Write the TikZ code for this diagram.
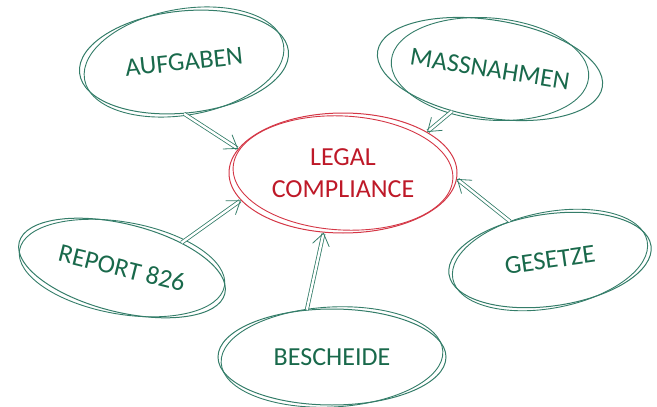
\documentclass[tikz,border=0pt]{standalone}
\usepackage{fontspec}
\setmainfont{Carlito}
\usetikzlibrary{shapes.geometric,arrows.meta}
\definecolor{linegreen}{RGB}{52,125,105}
\definecolor{textgreen}{RGB}{25,105,75}
\definecolor{linered}{RGB}{212,55,70}
\definecolor{textred}{RGB}{190,25,40}
\tikzstyle{thema} = [ellipse, draw=linegreen, line width=1pt, inner sep=0pt,
    text=textgreen, font=\fontsize{26}{28}\selectfont]
\tikzstyle{kern} = [ellipse, draw=linered, line width=1pt, inner sep=0pt,
    text=textred, align=center, font=\fontsize{26}{32}\selectfont]
\tikzstyle{feed} = [draw=linegreen, line width=0.8pt, double=white,
    double distance=2.4pt, -{Straight Barb[length=12pt,width=17pt]}]

\begin{document}
\begin{tikzpicture}[x=1pt,y=-1pt]
  \useasboundingbox (0,0) rectangle (657,407);
  \node [kern, minimum width=228, minimum height=120] (legal) at (343,173)
    {LEGAL\\COMPLIANCE};
  \node [thema, minimum width=210, minimum height=102, rotate=6] (aufg) at (184,62) {AUFGABEN};
  \node [thema, minimum width=204, minimum height=98, rotate=-9] (mass) at (490,69) {MASSNAHMEN};
  \node [thema, minimum width=212, minimum height=88, rotate=-14] (rep) at (122,268) {REPORT 826};
  \node [thema, minimum width=204, minimum height=92, rotate=8] (ges) at (550,260) {GESETZE};
  \node [thema, minimum width=228, minimum height=96] (besch) at (332,357) {BESCHEIDE};

  % zweiter Strich, skizzenhaft
  \draw [linered, line width=0.9pt, rotate around={-3:(legal.center)}]
    (legal.center) ellipse [x radius=110, y radius=57];
  \foreach \n/\a/\b/\r in {aufg/101/53/10, mass/99/51/-5, rep/104/46/-10,
      ges/99/48/11, besch/111/50/3}
    \draw [linegreen, line width=0.9pt, rotate around={\r:(\n.center)}]
      (\n.center) ellipse [x radius=\a, y radius=\b];

  \draw [feed] (aufg.264) -- (legal.167);
  \draw [feed] (mass.237) -- (legal.26);
  \draw [feed] (rep.37) -- (legal.195);
  \draw [feed] (ges.128) -- (legal.357);
  \draw [feed] (besch.118) -- (legal.252);
\end{tikzpicture}
\end{document}
